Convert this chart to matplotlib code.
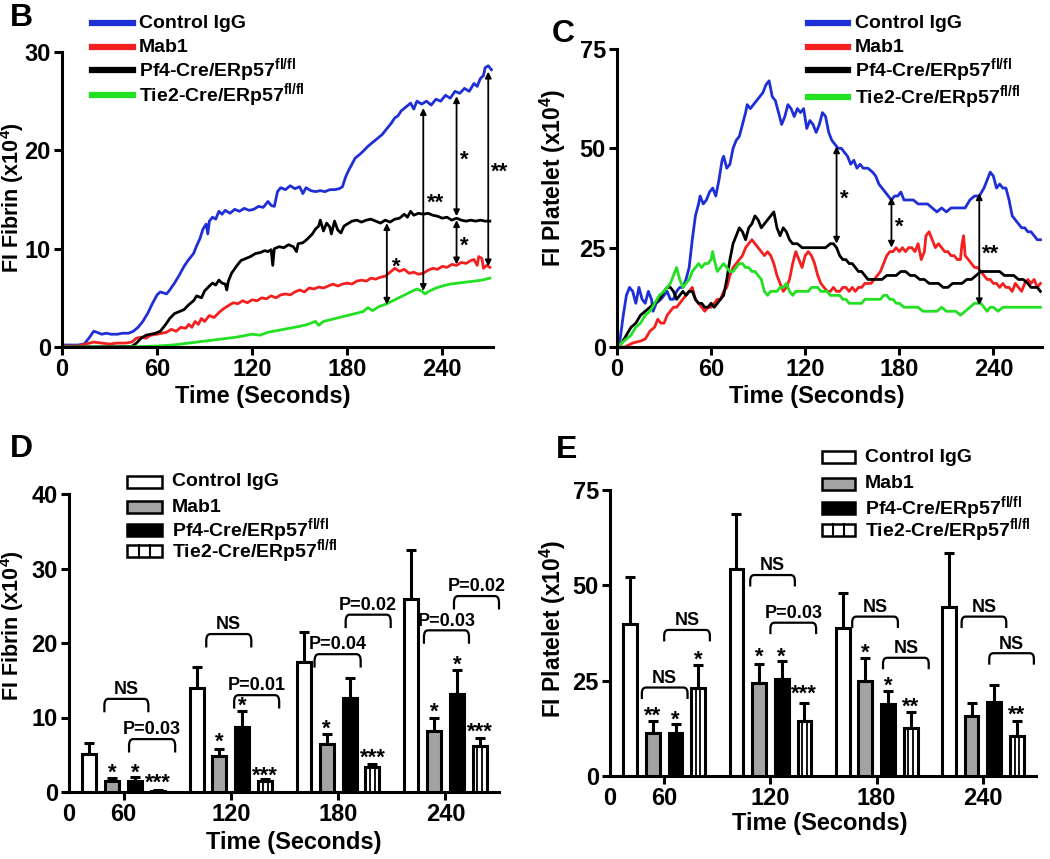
import matplotlib
matplotlib.use("Agg")
import matplotlib.pyplot as plt
import numpy as np
from matplotlib.lines import Line2D
from matplotlib.patches import Rectangle, PathPatch
from matplotlib.path import Path
from matplotlib.transforms import Affine2D

plt.rcParams['font.family'] = ['Liberation Sans', 'DejaVu Sans']
plt.rcParams['font.weight'] = 'bold'
plt.rcParams['mathtext.fontset'] = 'custom'
plt.rcParams['mathtext.rm'] = 'Liberation Sans:bold'
plt.rcParams['mathtext.bf'] = 'Liberation Sans:bold'
plt.rcParams['mathtext.it'] = 'Liberation Sans:bold'

W, H = 1050, 859

# ---------------- data ----------------
groups = ['Control IgG', 'Mab1', 'Pf4-Cre/ERp57$^{\\mathbf{fl/fl}}$', 'Tie2-Cre/ERp57$^{\\mathbf{fl/fl}}$']
line_colors = ['#1f2fd6', '#f42020', '#000000', '#22e022']

# Panel B: fibrin time course (x10^4)
b_t_ctrl = [0, 5, 10, 14, 17, 20, 22, 25, 28, 31, 35, 38, 42, 45, 48, 51, 54, 57, 60, 62, 64, 66, 68, 71, 74, 77, 80, 83, 85, 87, 89, 91, 92, 93, 95, 97, 99, 101, 103, 106, 109, 112, 115, 118, 121, 124, 127, 130, 132, 134, 136, 138, 141, 144, 147, 150, 152, 154, 157, 160, 163, 166, 169, 172, 175, 177, 179, 181, 183, 185, 188, 190, 193, 196, 199, 202, 205, 208, 210, 212, 214, 217, 220, 222, 224, 227, 230, 233, 236, 239, 242, 245, 248, 251, 254, 257, 260, 262, 264, 266, 267, 269, 271]
b_y_ctrl = [0.2, 0.2, 0.2, 0.3, 0.9, 1.6, 1.5, 1.3, 1.4, 1.3, 1.3, 1.4, 1.4, 1.6, 2.0, 2.6, 3.4, 4.4, 5.3, 5.6, 5.5, 5.4, 5.8, 6.5, 7.3, 8.2, 8.9, 9.5, 10.3, 11.0, 12.0, 12.5, 11.5, 12.8, 13.2, 13.0, 13.8, 13.5, 13.9, 13.6, 14.0, 13.8, 14.1, 13.9, 14.0, 14.3, 14.2, 14.8, 14.4, 14.3, 15.8, 16.2, 16.0, 16.4, 16.1, 16.3, 15.6, 16.2, 15.9, 15.8, 15.9, 15.8, 16.0, 16.0, 16.1, 16.3, 17.3, 18.0, 18.6, 19.2, 19.6, 19.9, 20.4, 20.8, 21.2, 21.6, 22.2, 22.8, 23.3, 23.5, 24.0, 24.4, 24.8, 24.2, 25.0, 24.7, 25.0, 24.6, 25.2, 25.0, 25.6, 25.3, 26.0, 25.8, 26.3, 26.0, 26.8, 26.5, 27.3, 27.6, 28.4, 28.6, 28.2]
b_t_mab1 = [0, 10, 15, 20, 25, 30, 35, 40, 44, 47, 50, 53, 56, 60, 63, 66, 69, 72, 75, 78, 80, 82, 84, 86, 88, 90, 93, 96, 99, 102, 105, 108, 111, 114, 117, 120, 123, 126, 129, 132, 135, 138, 141, 144, 147, 150, 153, 156, 159, 162, 165, 168, 171, 174, 177, 180, 183, 186, 189, 192, 195, 198, 201, 204, 207, 210, 213, 216, 219, 222, 225, 228, 231, 234, 237, 240, 243, 246, 249, 252, 255, 258, 260, 262, 263, 265, 266, 268, 270]
b_y_mab1 = [0.1, 0.1, 0.3, 0.5, 0.4, 0.3, 0.4, 0.4, 0.5, 0.9, 1.0, 0.9, 1.2, 1.3, 1.4, 1.5, 1.8, 1.6, 2.0, 1.9, 2.3, 2.0, 2.6, 2.3, 2.9, 2.6, 3.2, 3.0, 3.5, 3.9, 4.2, 4.5, 4.4, 4.7, 4.5, 4.8, 4.7, 5.0, 4.9, 5.2, 5.0, 5.3, 5.4, 5.3, 5.6, 5.8, 5.6, 6.0, 5.9, 6.1, 6.0, 6.2, 6.4, 6.2, 6.4, 6.5, 6.4, 6.7, 6.8, 6.7, 7.0, 6.9, 7.1, 7.2, 7.6, 8.0, 7.7, 7.9, 7.5, 7.6, 7.4, 7.5, 7.8, 8.0, 7.9, 8.2, 8.1, 8.4, 8.3, 8.6, 8.5, 8.8, 8.9, 8.3, 9.2, 9.0, 8.0, 8.3, 8.1]
b_t_pf4 = [0, 44, 47, 50, 53, 56, 59, 62, 65, 68, 71, 74, 77, 80, 83, 85, 88, 90, 93, 95, 97, 99, 101, 103, 104, 105, 107, 110, 113, 116, 119, 122, 125, 128, 130, 132, 133, 134, 137, 140, 143, 146, 148, 149, 152, 155, 158, 160, 162, 163, 165, 167, 169, 170, 172, 174, 176, 178, 180, 183, 186, 189, 192, 195, 198, 201, 204, 207, 210, 213, 216, 218, 220, 222, 225, 228, 231, 234, 237, 240, 243, 246, 249, 252, 255, 258, 261, 264, 267, 270]
b_y_pf4 = [0.0, 0.05, 0.4, 0.9, 1.2, 1.3, 1.4, 1.6, 2.2, 2.9, 3.4, 3.6, 3.8, 4.3, 4.7, 5.2, 5.0, 5.7, 6.2, 6.5, 6.3, 6.8, 6.5, 6.4, 5.8, 6.7, 7.5, 8.2, 8.8, 9.0, 9.2, 9.5, 9.6, 9.8, 9.7, 9.9, 8.3, 10.0, 10.2, 10.1, 10.4, 10.2, 9.7, 10.5, 10.6, 11.0, 11.5, 12.0, 12.3, 12.9, 11.8, 12.6, 12.2, 11.5, 12.8, 11.9, 11.6, 12.3, 12.5, 12.8, 12.9, 12.7, 12.9, 13.0, 12.8, 12.6, 12.9, 12.7, 13.0, 13.1, 13.5, 13.2, 13.8, 13.4, 13.6, 13.5, 13.6, 13.4, 13.3, 13.1, 13.2, 12.9, 13.1, 12.9, 12.8, 12.9, 12.8, 12.9, 12.8, 12.8]
b_t_tie2 = [0, 40, 50, 60, 70, 80, 90, 100, 110, 120, 125, 130, 140, 150, 155, 160, 162, 165, 170, 175, 180, 185, 190, 193, 196, 200, 205, 210, 215, 220, 224, 227, 229, 232, 236, 240, 245, 250, 255, 260, 265, 270]
b_y_tie2 = [0.0, 0.0, 0.05, 0.1, 0.2, 0.4, 0.6, 0.8, 1.0, 1.3, 1.2, 1.5, 1.8, 2.1, 2.3, 2.6, 2.2, 2.6, 2.8, 3.0, 3.2, 3.4, 3.6, 4.0, 3.7, 4.1, 4.4, 4.8, 5.2, 5.6, 5.9, 5.7, 5.4, 5.7, 6.0, 6.2, 6.4, 6.5, 6.6, 6.7, 6.8, 7.0]

# Panel C: platelet time course (x10^4)
c_t_ctrl = [0, 2, 4, 6, 8, 10, 12, 14, 16, 18, 20, 22, 23, 25, 28, 30, 32, 34, 36, 38, 40, 42, 44, 46, 48, 50, 52, 53, 55, 57, 59, 61, 63, 65, 67, 68, 70, 72, 74, 76, 78, 80, 82, 83, 85, 87, 89, 91, 93, 95, 97, 99, 101, 103, 105, 107, 109, 111, 113, 115, 117, 119, 121, 123, 125, 127, 129, 131, 133, 135, 137, 139, 141, 143, 145, 147, 149, 151, 153, 155, 157, 160, 163, 165, 167, 169, 171, 173, 175, 177, 179, 181, 183, 186, 189, 192, 195, 198, 201, 204, 207, 210, 213, 216, 219, 222, 225, 228, 231, 234, 236, 238, 240, 242, 244, 246, 248, 250, 252, 254, 256, 258, 260, 262, 264, 266, 268, 270]
c_y_ctrl = [0, 2, 8, 13, 15, 14, 11, 15, 12, 11, 14, 12, 9, 11, 12, 13, 14, 12, 12, 14, 15, 15, 17, 20, 27, 33, 36, 38, 36, 37, 39, 40, 38, 42, 47, 48, 45, 46, 50, 52, 53, 56, 59, 61, 60, 61, 62, 63, 64, 66, 67, 63, 62, 59, 56, 58, 61, 60, 58, 60, 59, 60, 55, 57, 56, 54, 56, 59, 58, 54, 52, 51, 50, 50, 49, 48, 46, 47, 45, 46, 45, 45, 44, 43, 41, 40, 39, 38, 37, 38, 38, 39, 37, 37, 37, 36, 36, 36, 35, 34, 35, 34, 35, 35, 35, 35, 37, 38, 38, 40, 42, 44, 43, 40, 41, 40, 40, 37, 33, 32, 31, 30, 30, 29, 29, 28, 27, 27]
c_t_mab1 = [0, 5, 10, 15, 18, 21, 24, 26, 28, 30, 32, 34, 36, 38, 40, 42, 44, 46, 48, 50, 52, 54, 56, 58, 60, 62, 64, 66, 68, 70, 72, 74, 76, 78, 80, 82, 84, 86, 88, 90, 92, 94, 96, 98, 100, 102, 104, 106, 108, 110, 112, 114, 116, 118, 120, 122, 124, 126, 128, 130, 132, 134, 136, 138, 140, 142, 144, 146, 148, 150, 152, 154, 156, 158, 160, 162, 164, 166, 168, 170, 172, 174, 176, 178, 180, 182, 184, 186, 188, 190, 192, 194, 196, 197, 199, 201, 203, 205, 207, 209, 211, 213, 215, 217, 219, 220, 221, 222, 224, 226, 228, 230, 232, 234, 236, 238, 240, 242, 244, 246, 248, 250, 252, 254, 256, 258, 260, 262, 264, 266, 268, 270]
c_y_mab1 = [0, 0, 1, 1.5, 2, 4, 5, 7, 6, 6, 8, 9, 10, 10, 11, 12, 13, 14, 15, 12, 11, 10, 9, 10, 10, 11, 12, 12, 14, 15, 18, 20, 21, 22, 23, 25, 26, 27, 26, 25, 24, 23, 24, 23, 21, 18, 16, 14, 15, 17, 21, 24, 22, 20, 23, 24, 23, 21, 18, 16, 15, 14, 14, 15, 14, 14, 15, 15, 14, 15, 14, 15, 15, 16, 16, 16, 17, 18, 19, 21, 23, 24, 24, 25, 24, 25, 24, 25, 25, 24, 26, 22, 24, 28, 29, 27, 25, 26, 25, 24, 24, 23, 23, 22, 22, 26, 28, 23, 22, 21, 20, 20, 19, 18, 17, 17, 16, 16, 15, 16, 15, 15, 14, 16, 15, 14, 16, 17, 16, 17, 15, 16]
c_t_pf4 = [0, 3, 6, 9, 12, 15, 18, 21, 24, 27, 30, 32, 34, 36, 38, 40, 42, 44, 46, 48, 50, 52, 54, 56, 58, 60, 62, 64, 66, 68, 70, 72, 74, 76, 78, 80, 82, 84, 86, 88, 90, 92, 94, 96, 98, 100, 102, 104, 106, 108, 110, 112, 115, 118, 121, 124, 127, 130, 133, 136, 138, 140, 142, 144, 146, 148, 150, 152, 154, 156, 158, 160, 163, 166, 169, 172, 175, 178, 181, 184, 187, 190, 193, 196, 199, 202, 205, 208, 211, 214, 217, 220, 223, 226, 229, 232, 235, 238, 241, 244, 247, 250, 253, 256, 259, 262, 264, 266, 268, 270]
c_y_pf4 = [0, 1, 3, 5, 6, 8, 9, 10, 11, 12, 14, 15, 15, 14, 12, 13, 14, 13, 14, 14, 12, 11, 11, 10, 10, 11, 10, 11, 12, 13, 17, 22, 26, 28, 30, 29, 27, 30, 31, 33, 32, 30, 31, 32, 33, 34, 30, 28, 30, 29, 27, 26, 26, 25, 25, 25, 25, 25, 25, 26, 26, 25, 23, 22, 22, 21, 21, 20, 19, 19, 18, 17, 17, 17, 17, 18, 18, 18, 19, 19, 18, 18, 17, 17, 16, 16, 16, 15, 15, 16, 16, 16, 17, 17, 18, 19, 19, 19, 19, 19, 18, 18, 18, 17, 17, 16, 15, 15, 15, 14]
c_t_tie2 = [0, 3, 6, 9, 12, 15, 18, 21, 24, 27, 30, 32, 34, 36, 38, 40, 42, 44, 46, 48, 50, 52, 54, 56, 58, 60, 61, 62, 64, 66, 68, 70, 72, 74, 76, 78, 80, 82, 84, 86, 88, 90, 92, 94, 96, 98, 100, 102, 104, 106, 108, 110, 112, 114, 116, 118, 120, 122, 124, 126, 128, 130, 132, 134, 136, 138, 140, 142, 144, 146, 148, 150, 152, 154, 156, 158, 160, 162, 164, 166, 168, 170, 172, 174, 176, 178, 180, 183, 186, 189, 192, 195, 198, 201, 204, 207, 210, 213, 216, 219, 222, 225, 228, 230, 232, 234, 236, 238, 240, 243, 246, 249, 252, 255, 258, 261, 264, 267, 270]
c_y_tie2 = [0, 1, 2, 3, 5, 6, 8, 9, 11, 13, 14, 15, 16, 18, 20, 17, 15, 16, 17, 19, 20, 21, 20, 21, 21, 22, 24, 22, 19, 20, 21, 20, 19, 19, 20, 21, 21, 20, 20, 19, 19, 18, 17, 14, 13, 14, 14, 14, 15, 15, 16, 14, 13, 14, 14, 14, 14, 14, 15, 15, 15, 14, 14, 14, 13, 13, 13, 13, 12, 12, 11, 11, 11, 11, 11, 12, 12, 12, 12, 12, 12, 13, 13, 12, 12, 11, 11, 10, 10, 10, 10, 9, 9, 9, 9, 10, 9, 9, 9, 8, 9, 10, 11, 11, 11, 10, 9, 10, 10, 9, 10, 10, 10, 10, 10, 10, 10, 10, 10]

# significance arrows: (time, from, to, label, label time, label y)
b_arrows = [(205, 12.6, 4.3, '*', 211, 8.8), (228, 24.3, 5.7, '**', 236, 15.3),
            (249, 25.5, 13.3, '*', 254, 19.7), (249, 12.9, 8.4, '*', 254, 11.0),
            (269, 28.0, 8.2, '**', 276, 18.5)]
c_arrows = [(140, 50.5, 26.0, '*', 145, 39), (175, 37.7, 25.0, '*', 180, 32),
            (231, 38.7, 10.5, '**', 238, 25)]

# Panel D: fibrin at time points (mean, SEM top)
time_labels = ['60', '120', '180', '240']
d_mean = {'ctrl': [5.1, 14.0, 17.4, 25.9], 'mab1': [1.5, 4.8, 6.5, 8.2],
          'pf4': [1.5, 8.7, 12.6, 13.1], 'tie2': [0.2, 1.5, 3.4, 6.2]}
d_top = {'ctrl': [6.6, 16.8, 21.5, 32.5], 'mab1': [1.9, 5.8, 7.8, 9.9],
         'pf4': [2.0, 10.9, 15.3, 16.4], 'tie2': [0.3, 1.7, 3.8, 7.2]}
d_stars = {'mab1': ['*', '*', '*', '*'], 'pf4': ['*', '*', '', '*'], 'tie2': ['***', '***', '***', '***']}
d_star_y = {'mab1': [3.4, 7.6, 9.4, 11.6], 'pf4': [3.5, 12.5, 0, 18.0], 'tie2': [2.1, 3.0, 5.5, 8.9]}
# brackets: (group, start, end, top, label)
d_brackets = [(0, -0.18, 0.23, 12.5, 'NS'), (0, 0.05, 0.48, 7.1, 'P=0.03'),
              (1, -0.23, 0.19, 21.2, 'NS'), (1, 0.03, 0.45, 13.0, 'P=0.01'),
              (2, -0.22, 0.21, 18.5, 'P=0.04'), (2, 0.07, 0.49, 23.8, 'P=0.02'),
              (3, -0.20, 0.22, 21.7, 'P=0.03'), (3, 0.08, 0.50, 26.3, 'P=0.02')]

# Panel E: platelet at time points
e_mean = {'ctrl': [39.9, 54.3, 38.7, 44.4], 'mab1': [11.3, 24.4, 24.9, 15.7],
          'pf4': [11.3, 25.5, 19.0, 19.4], 'tie2': [23.0, 14.3, 12.6, 10.6]}
e_top = {'ctrl': [52.3, 68.7, 48.0, 58.4], 'mab1': [14.5, 29.5, 30.9, 19.1],
         'pf4': [13.6, 30.1, 22.2, 23.9], 'tie2': [29.2, 19.2, 16.8, 14.4]}
e_stars = {'mab1': ['**', '*', '*', ''], 'pf4': ['*', '*', '*', ''], 'tie2': ['*', '***', '**', '**']}
e_star_y = {'mab1': [17.6, 32.9, 33.9, 0], 'pf4': [16.4, 32.9, 25.4, 0], 'tie2': [32.3, 23.2, 19.9, 17.8]}
e_brackets = [(0, -0.21, 0.22, 23.2, 'NS'), (0, 0.0, 0.43, 38.3, 'NS'),
              (1, -0.19, 0.23, 52.7, 'NS'), (1, 0.0, 0.43, 40.2, 'P=0.03'),
              (2, -0.23, 0.20, 41.8, 'NS'), (2, 0.06, 0.49, 31.0, 'NS'),
              (3, -0.20, 0.22, 41.8, 'NS'), (3, 0.06, 0.48, 32.2, 'NS')]

keys = ['ctrl', 'mab1', 'pf4', 'tie2']
offsets = [-0.32, -0.107, 0.107, 0.32]
bar_w = 0.13
bar_fc = {'ctrl': 'white', 'mab1': '#a3a3a3', 'pf4': 'black', 'tie2': 'white'}

fig = plt.figure(figsize=(W / 100, H / 100), dpi=100)
px = Affine2D().scale(1 / W, -1 / H).translate(0, 1) + fig.transFigure


def px_axes(left, top, right, bottom):
    return fig.add_axes([left / W, 1 - bottom / H, (right - left) / W, (bottom - top) / H])


def style(ax):
    for s in ['top', 'right']:
        ax.spines[s].set_visible(False)
    for s in ['left', 'bottom']:
        ax.spines[s].set_linewidth(2.2)
    ax.tick_params(width=2.2, length=6, labelsize=17, direction='out', pad=2)
    for lab in ax.get_xticklabels() + ax.get_yticklabels():
        lab.set_fontweight('bold')


def star(ax, x, y, s):
    # asterisk ink sits high in the text box, so pull it down to centre the ink on y
    ax.annotate(s, (x, y), xytext=(0, -5), textcoords='offset points', ha='center', va='center',
                fontsize=16, fontweight='bold', annotation_clip=False)


def bracket(ax, g, x0, x1, y, depth, label):
    x0, x1 = g + x0, g + x1
    rx = (x1 - x0) * 0.09
    ry = depth * 0.5
    verts = [(x0, y - depth), (x0, y - ry), (x0, y), (x0 + rx, y), (x1 - rx, y),
             (x1, y), (x1, y - ry), (x1, y - depth)]
    codes = [Path.MOVETO, Path.LINETO, Path.CURVE3, Path.CURVE3, Path.LINETO,
             Path.CURVE3, Path.CURVE3, Path.LINETO]
    ax.add_patch(PathPatch(Path(verts, codes), fill=False, lw=1.6, clip_on=False))
    ax.annotate(label, ((x0 + x1) / 2, y), xytext=(0, 0.5), textcoords='offset points',
                ha='center', va='bottom', fontsize=13, fontweight='bold', annotation_clip=False)


def line_panel(ax, series, arrows, ymax, yticks, xmax):
    for (t, y), c in zip(series, line_colors):
        ax.plot(t, y, color=c, lw=2.0, solid_joinstyle='round')
    for t, y0, y1, lab, lt, ly in arrows:
        ax.annotate('', xy=(t, y1), xytext=(t, y0),
                    arrowprops=dict(arrowstyle='<|-|>', lw=1.3, color='k', mutation_scale=9,
                                    shrinkA=0, shrinkB=0))
        star(ax, lt, ly, lab)
    ax.set_xlim(0, xmax)
    ax.set_ylim(0, ymax)
    ax.set_xticks([0, 60, 120, 180, 240])
    ax.set_yticks(yticks)
    style(ax)


def bar_panel(ax, mean, top, stars, star_y, brackets, ymax, yticks, depth):
    x = np.arange(4)
    for k, off in zip(keys, offsets):
        xs = x + off
        ax.bar(xs, mean[k], width=bar_w, color=bar_fc[k], edgecolor='black', linewidth=2.2, zorder=3)
        if k == 'tie2':
            ax.vlines(xs - bar_w / 6, 0, mean[k], color='black', lw=1.3, zorder=4)
            ax.vlines(xs + bar_w / 6, 0, mean[k], color='black', lw=1.3, zorder=4)
        err = np.array(top[k]) - np.array(mean[k])
        ax.errorbar(xs, mean[k], yerr=[np.zeros(4), err], fmt='none', ecolor='black',
                    elinewidth=2.2, capsize=3.5, capthick=2.2, zorder=2)
        if k in stars:
            for xi, s, sy in zip(xs, stars[k], star_y[k]):
                if s:
                    star(ax, xi, sy, s)
    for g, x0, x1, y, lab in brackets:
        bracket(ax, g, x0, x1, y, depth, lab)
    ax.set_ylim(0, ymax)
    ax.set_yticks(yticks)
    ax.set_xlim(-0.51, 3.5)
    ax.set_xticks([-0.51, 0, 1, 2, 3])
    ax.set_xticklabels(['0'] + time_labels)
    style(ax)
    ax.get_xticklines()[0].set_visible(False)


# Panel B
ax_b = px_axes(62, 52, 493, 347)
line_panel(ax_b, [(b_t_ctrl, b_y_ctrl), (b_t_mab1, b_y_mab1), (b_t_pf4, b_y_pf4), (b_t_tie2, b_y_tie2)],
           b_arrows, 30, [0, 10, 20, 30], 272)
ax_b.set_ylabel('FI Fibrin (x10$^{\\mathbf{4}}$)', fontsize=15.5, fontweight='bold')
ax_b.set_xlabel('Time (Seconds)', fontsize=17, fontweight='bold')
ax_b.yaxis.set_label_coords(-0.083, 0.507)
ax_b.xaxis.set_label_coords(0.466, -0.129)

# Panel C
ax_c = px_axes(617, 49, 1042, 347)
line_panel(ax_c, [(c_t_ctrl, c_y_ctrl), (c_t_mab1, c_y_mab1), (c_t_pf4, c_y_pf4), (c_t_tie2, c_y_tie2)],
           c_arrows, 75, [0, 25, 50, 75], 271)
ax_c.set_ylabel('FI Platelet (x10$^{\\mathbf{4}}$)', fontsize=16.5, fontweight='bold')
ax_c.set_xlabel('Time (Seconds)', fontsize=17, fontweight='bold')
ax_c.yaxis.set_label_coords(-0.115, 0.567)
ax_c.xaxis.set_label_coords(0.47, -0.128)

# Panel D
ax_d = px_axes(69, 494, 499, 792)
bar_panel(ax_d, d_mean, d_top, d_stars, d_star_y, d_brackets, 40, [0, 10, 20, 30, 40], 1.8)
ax_d.set_ylabel('FI Fibrin (x10$^{\\mathbf{4}}$)', fontsize=15.5, fontweight='bold')
ax_d.set_xlabel('Time (Seconds)', fontsize=17, fontweight='bold')
ax_d.yaxis.set_label_coords(-0.099, 0.56)
ax_d.xaxis.set_label_coords(0.522, -0.131)

# Panel E
ax_e = px_axes(610, 490, 1036, 776)
bar_panel(ax_e, e_mean, e_top, e_stars, e_star_y, e_brackets, 75, [0, 25, 50, 75], 3.0)
ax_e.set_ylabel('FI Platelet (x10$^{\\mathbf{4}}$)', fontsize=16.5, fontweight='bold')
ax_e.set_xlabel('Time (Seconds)', fontsize=17, fontweight='bold')
ax_e.yaxis.set_label_coords(-0.099, 0.516)
ax_e.xaxis.set_label_coords(0.493, -0.126)

# legends (pixel positions)
for x0, x1, xt, rows in [(92, 133, 139, [23, 47, 70, 95]), (808, 848, 855, [23, 47, 70, 97])]:
    for name, c, y in zip(groups, line_colors, rows):
        fig.add_artist(Line2D([x0, x1], [y, y], color=c, lw=4.5, transform=px))
        fig.text(xt, y, name, transform=px, fontsize=14, fontweight='bold', va='center')

for x0, x1, xt, rows in [(127, 162, 172, [482, 507, 530, 551]), (822, 855, 865, [457, 484, 508, 530])]:
    for name, k, y in zip(groups, keys, rows):
        fig.add_artist(Rectangle((x0, y - 6), x1 - x0, 12, facecolor=bar_fc[k], edgecolor='black',
                                 lw=1.8, transform=px))
        if k == 'tie2':
            for xv in [x0 + (x1 - x0) / 3, x0 + 2 * (x1 - x0) / 3]:
                fig.add_artist(Line2D([xv, xv], [y - 6, y + 6], color='black', lw=1.5, transform=px))
        fig.text(xt, y, name, transform=px, fontsize=14, fontweight='bold', va='center')

# panel letters
for lab, x, y in [('B', 10, 18), ('C', 552, 34), ('D', 10, 449), ('E', 556, 450)]:
    fig.text(x, y, lab, transform=px, fontsize=23, fontweight='bold', va='center')

fig.savefig('out.png', dpi=100)
